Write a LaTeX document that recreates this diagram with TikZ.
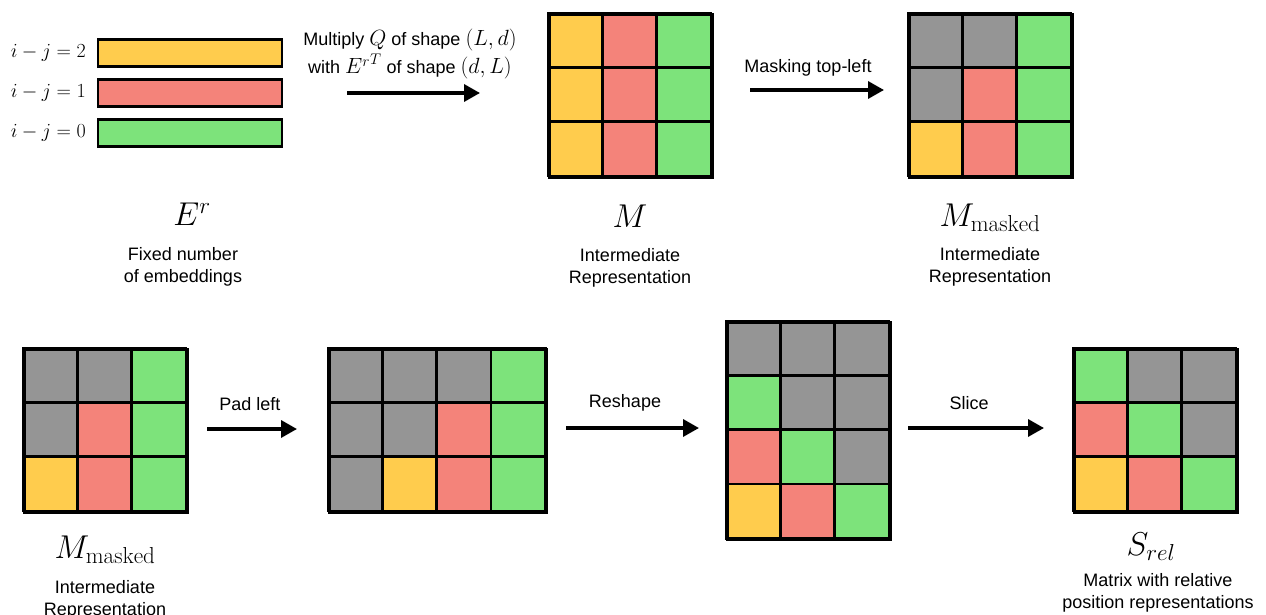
\RequirePackage{fix-cm}
\documentclass[tikz,border=0pt]{standalone}
\usepackage{fontspec}
\newfontfamily\arial{Liberation Sans}
\usetikzlibrary{arrows.meta}
\definecolor{cy}{HTML}{FFCC4D}
\definecolor{cr}{HTML}{F4837A}
\definecolor{cg}{HTML}{7DE37B}
\definecolor{cgr}{HTML}{959595}
\newcommand\drawgrid[3]{%
  \foreach \c/\r/\k in {#3}
    \draw[cellbox, fill=\k] ({#1+\c*54.3},{#2+\r*54.3}) rectangle ++(54.3,54.3);
}
\newcommand\mth[1]{{\fontsize{22}{22}\selectfont$#1$}}
\tikzset{
  cellbox/.style={draw=black, line width=2.8pt},
  bar/.style={draw=black, line width=2.8pt, minimum width=184pt, minimum height=27pt, inner sep=0pt},
  frame/.style={draw=black, line width=2.8pt, inner sep=0pt, anchor=north west},
  arr/.style={line width=3.4pt, -{Triangle[length=16pt,width=17pt]}},
  lbl/.style={font=\arial\fontsize{18}{22}\selectfont, align=center, inner sep=0pt},
  big/.style={font=\fontsize{33}{38}\selectfont, inner sep=0pt},
  idx/.style={font=\fontsize{20}{24}\selectfont, inner sep=0pt},
}
\begin{document}
\begin{tikzpicture}[x=1pt,y=-1pt]
\useasboundingbox (0,0) rectangle (1266,615);
% E^r bars
\node[bar, fill=cy] (b2) at (190,53) {};
\node[bar, fill=cr] (b1) at (190,93) {};
\node[bar, fill=cg] (b0) at (190,133) {};
\node[idx, anchor=east] (l2) at (86,53) {$i-j=2$};
\node[idx, anchor=east] (l1) at (86,93) {$i-j=1$};
\node[idx, anchor=east] (l0) at (86,133) {$i-j=0$};
\node[big] (Er) at (192,214) {$E^r$};
\node[lbl] (Ert) at (183,267) {Fixed number\\of embeddings};
% arrow 1
\node[lbl, anchor=base] (t1a) at (410,46) {Multiply \mth{Q} of shape \mth{(L,d)}};
\node[lbl, anchor=base] (t1b) at (410,74) {with \mth{{E^r}^T} of shape \mth{(d,L)}};
\coordinate (a1s) at (347,93);
\coordinate (a1e) at (480,93);
\draw[arr] (a1s) -- (a1e);
% M
\drawgrid{548}{13}{0/0/cy,1/0/cr,2/0/cg,0/1/cy,1/1/cr,2/1/cg,0/2/cy,1/2/cr,2/2/cg}
\node[frame, minimum width=163pt, minimum height=163pt] (M) at (548,13) {};
\node[big] (Ml) at (630,216) {$M$};
\node[lbl] (Mt) at (630,268) {Intermediate\\Representation};
% arrow 2
\node[lbl] (t2) at (808,68) {Masking top-left};
\coordinate (a2s) at (750,90);
\coordinate (a2e) at (884,90);
\draw[arr] (a2s) -- (a2e);
% M masked top
\drawgrid{908}{13}{0/0/cgr,1/0/cgr,2/0/cg,0/1/cgr,1/1/cr,2/1/cg,0/2/cy,1/2/cr,2/2/cg}
\node[frame, minimum width=163pt, minimum height=163pt] (MM) at (908,13) {};
\node[big] (MMl) at (990,218) {$M_{\mathrm{masked}}$};
\node[lbl] (MMt) at (990,267) {Intermediate\\Representation};
% bottom: M masked
\drawgrid{23}{348}{0/0/cgr,1/0/cgr,2/0/cg,0/1/cgr,1/1/cr,2/1/cg,0/2/cy,1/2/cr,2/2/cg}
\node[frame, minimum width=163pt, minimum height=163pt] (B1) at (23,348) {};
\node[big] (B1l) at (105,550) {$M_{\mathrm{masked}}$};
\node[lbl] (B1t) at (105,600) {Intermediate\\Representation};
% pad left
\node[lbl] (t3) at (250,404) {Pad left};
\coordinate (a3s) at (207,429);
\coordinate (a3e) at (297,429);
\draw[arr] (a3s) -- (a3e);
\drawgrid{328}{348}{0/0/cgr,1/0/cgr,2/0/cgr,3/0/cg,0/1/cgr,1/1/cgr,2/1/cr,3/1/cg,0/2/cgr,1/2/cy,2/2/cr,3/2/cg}
\node[frame, minimum width=217pt, minimum height=163pt] (B2) at (328,348) {};
% reshape
\node[lbl] (t4) at (625,403) {Reshape};
\coordinate (a4s) at (566,428);
\coordinate (a4e) at (699,428);
\draw[arr] (a4s) -- (a4e);
\drawgrid{726}{321}{0/0/cgr,1/0/cgr,2/0/cgr,0/1/cg,1/1/cgr,2/1/cgr,0/2/cr,1/2/cg,2/2/cgr,0/3/cy,1/3/cr,2/3/cg}
\node[frame, minimum width=163pt, minimum height=217pt] (B3) at (726,321) {};
% slice
\node[lbl] (t5) at (969,403) {Slice};
\coordinate (a5s) at (908,428);
\coordinate (a5e) at (1044,428);
\draw[arr] (a5s) -- (a5e);
\drawgrid{1073}{348}{0/0/cg,1/0/cgr,2/0/cgr,0/1/cr,1/1/cg,2/1/cgr,0/2/cy,1/2/cr,2/2/cg}
\node[frame, minimum width=163pt, minimum height=163pt] (B4) at (1073,348) {};
\node[big] (B4l) at (1151,547) {$S_{rel}$};
\node[lbl] (B4t) at (1158,593) {Matrix with relative\\position representations};
\end{tikzpicture}
\end{document}
